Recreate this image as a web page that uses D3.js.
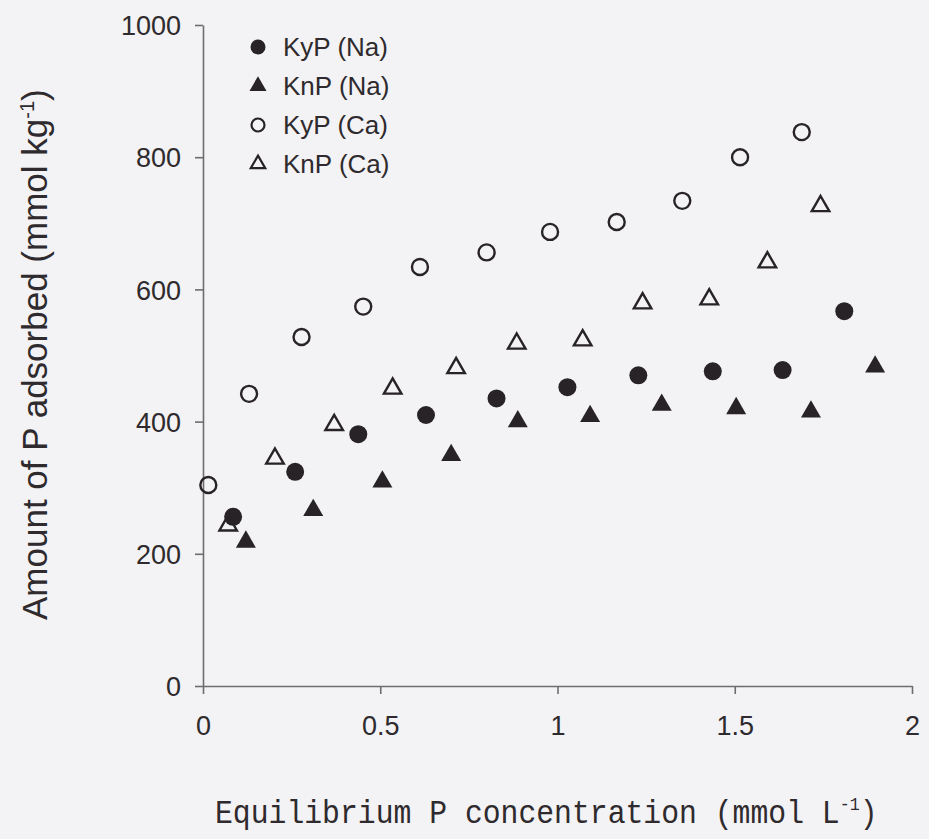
<!DOCTYPE html>
<html>
<head>
<meta charset="utf-8">
<script src="https://cdn.jsdelivr.net/npm/d3@7"></script>
<style>
  html, body { margin: 0; padding: 0; background: #f3f2f4; }
  svg { display: block; }
</style>
</head>
<body>
<svg id="chart" width="929" height="839"></svg>
<script>
// Phosphate adsorption isotherms: equilibrium P (mmol L-1) vs P adsorbed (mmol kg-1)
const kyNaX = [0.085, 0.260, 0.438, 0.629, 0.828, 1.028, 1.228, 1.438, 1.635, 1.809];
const kyNaY = [256, 324, 381, 410, 435, 452, 470, 476, 478, 567];
const knNaX = [0.121, 0.311, 0.506, 0.700, 0.888, 1.092, 1.294, 1.504, 1.715, 1.896];
const knNaY = [218, 266, 309, 349, 400, 408, 425, 420, 415, 483];
const kyCaX = [0.015, 0.130, 0.278, 0.452, 0.612, 0.800, 0.979, 1.167, 1.352, 1.515, 1.689];
const kyCaY = [304, 442, 528, 574, 634, 656, 687, 702, 734, 800, 838];
const knCaX = [0.071, 0.203, 0.370, 0.535, 0.714, 0.885, 1.071, 1.240, 1.428, 1.592, 1.742];
const knCaY = [243, 344, 395, 450, 481, 518, 523, 579, 585, 641, 726];

const seriesNames = ["KyP (Na)", "KnP (Na)", "KyP (Ca)", "KnP (Ca)"];
const xTicks = [0, 0.5, 1, 1.5, 2];
const xTickLabels = ["0", "0.5", "1", "1.5", "2"];
const yTicks = [0, 200, 400, 600, 800, 1000];
const yTickLabels = ["0", "200", "400", "600", "800", "1000"];

const ink = "#272326";
const axisColor = "#6f6c70";

const svg = d3.select("#chart");

const x = d3.scaleLinear().domain([0, 2]).range([203, 912]);
const y = d3.scaleLinear().domain([0, 1000]).range([686, 25]);

const series = [
  { name: seriesNames[0], xs: kyNaX, ys: kyNaY, shape: d3.symbolCircle, filled: true },
  { name: seriesNames[1], xs: knNaX, ys: knNaY, shape: d3.symbolTriangle, filled: true },
  { name: seriesNames[2], xs: kyCaX, ys: kyCaY, shape: d3.symbolCircle, filled: false },
  { name: seriesNames[3], xs: knCaX, ys: knCaY, shape: d3.symbolTriangle, filled: false }
];

function symbolSize(s, legend) {
  if (s.shape === d3.symbolCircle) {
    const r = s.filled ? 9 : 8;
    const rr = legend ? r - 1.5 : r;
    return Math.PI * rr * rr;
  }
  const side = s.filled ? 20 : 17.5;
  const ss = legend ? side - 3 : side;
  return Math.sqrt(3) / 4 * ss * ss;
}

// axes
const yAxis = d3.axisLeft(y).tickValues(yTicks).tickFormat((d, i) => yTickLabels[i])
  .tickSize(8).tickSizeOuter(0).tickPadding(14);
const xAxis = d3.axisBottom(x).tickValues(xTicks).tickFormat((d, i) => xTickLabels[i])
  .tickSize(8).tickSizeOuter(0).tickPadding(22);

const gy = svg.append("g").attr("transform", `translate(${x(0)},0)`).call(yAxis);
const gx = svg.append("g").attr("transform", `translate(0,${y(0)})`).call(xAxis);

[gx, gy].forEach(g => {
  g.selectAll(".domain").attr("stroke", axisColor).attr("stroke-width", 1.6);
  g.selectAll(".tick line").attr("stroke", axisColor).attr("stroke-width", 1.6);
  g.selectAll(".tick text")
    .attr("fill", "#2e2a2d")
    .style("font-family", "'Liberation Sans', Arial, sans-serif")
    .style("font-size", "27px");
});
gy.selectAll(".tick text").attr("dy", "0.36em");
gx.selectAll(".tick text").attr("dy", "0.72em");

// data marks
series.forEach(s => {
  const pts = s.xs.map((v, i) => [v, s.ys[i]]);
  svg.append("g").selectAll("path").data(pts).join("path")
    .attr("transform", d => `translate(${x(d[0])},${y(d[1])})`)
    .attr("d", d3.symbol().type(s.shape).size(symbolSize(s, false)))
    .attr("fill", s.filled ? ink : "none")
    .attr("stroke", ink)
    .attr("stroke-width", s.filled ? 0 : 2.4)
    .attr("stroke-linejoin", "miter");
});

// legend
const legend = svg.append("g").attr("transform", "translate(258,47)");
series.forEach((s, i) => {
  const row = legend.append("g").attr("transform", `translate(0,${i * 39})`);
  row.append("path")
    .attr("d", d3.symbol().type(s.shape).size(symbolSize(s, true)))
    .attr("fill", s.filled ? ink : "none")
    .attr("stroke", ink)
    .attr("stroke-width", s.filled ? 0 : 2.2);
  row.append("text")
    .attr("x", 25).attr("dy", "0.36em")
    .attr("fill", "#2e2a2d")
    .style("font-family", "'Liberation Sans', Arial, sans-serif")
    .style("font-size", "26px")
    .text(s.name);
});

// axis titles
const xt = svg.append("text")
  .attr("transform", "translate(215,823) scale(0.875,1)")
  .attr("fill", "#2e2a2d")
  .style("font-family", "'Liberation Mono', 'DejaVu Sans Mono', monospace")
  .style("font-size", "34px");
xt.append("tspan").text("Equilibrium P concentration (mmol L");
xt.append("tspan").attr("dy", -13).style("font-size", "19px").text("-1");
xt.append("tspan").attr("dy", 13).text(")");

const yt = svg.append("text")
  .attr("transform", "translate(47,620) rotate(-90)")
  .attr("fill", "#2e2a2d")
  .style("font-family", "'Liberation Sans', Arial, sans-serif")
  .style("font-size", "35px");
yt.append("tspan").text("Amount of P adsorbed (mmol kg");
yt.append("tspan").attr("dy", -13).style("font-size", "20px").text("-1");
yt.append("tspan").attr("dy", 13).text(")");
</script>
</body>
</html>
